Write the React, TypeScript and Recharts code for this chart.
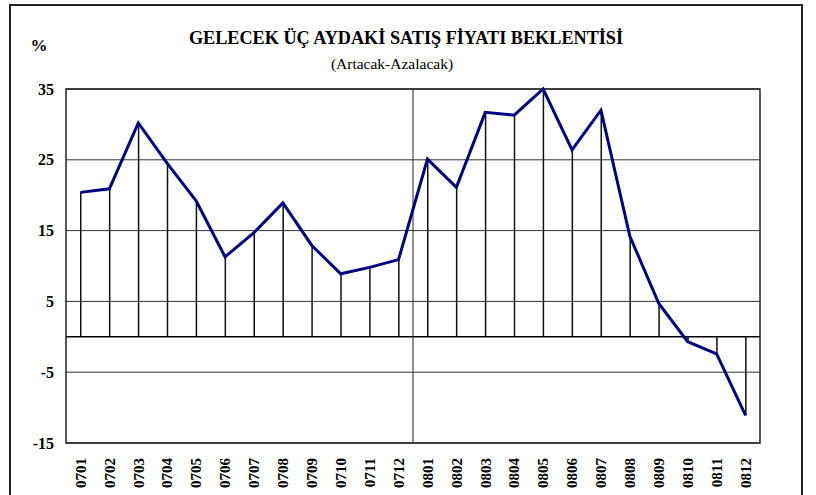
import {
  ComposedChart,
  Line,
  Bar,
  XAxis,
  YAxis,
  CartesianGrid,
  ReferenceLine,
  ReferenceArea,
} from 'recharts';

const FONT = '"Liberation Serif", "Times New Roman", serif';

const months = [
  '0701', '0702', '0703', '0704', '0705', '0706', '0707', '0708', '0709', '0710', '0711', '0712',
  '0801', '0802', '0803', '0804', '0805', '0806', '0807', '0808', '0809', '0810', '0811', '0812',
];

const expectation = [
  20.4, 20.9, 30.2, 24.5, 19.2, 11.3, 14.7, 18.9, 12.9, 8.9, 9.8, 10.9,
  25.1, 21.1, 31.7, 31.3, 35.0, 26.4, 32.0, 14.2, 4.7, -0.7, -2.4, -11.1,
];

const yTicks = [-15, -5, 5, 15, 25, 35];

const data = months.map((m, i) => ({ month: m, value: expectation[i] }));

function MonthTick({ x, y, payload }: any) {
  return (
    <text
      transform={`translate(${x},${y + 1}) rotate(-90)`}
      textAnchor="end"
      dy="0.35em"
      fontFamily={FONT}
      fontWeight="bold"
      fontSize={15}
      fill="#000"
    >
      {payload.value}
    </text>
  );
}

export default function App() {
  return (
    <div style={{ position: 'absolute', left: 0, top: 0, width: 816, height: 495, background: '#fff', overflow: 'hidden' }}>
      <div
        style={{
          position: 'absolute',
          left: 9,
          top: 4,
          width: 794,
          height: 520,
          border: '2px solid #222',
          boxSizing: 'border-box',
        }}
      />
      <div style={{ position: 'absolute', left: 0, top: 0 }}>
        <ComposedChart
          width={816}
          height={495}
          data={data}
          margin={{ top: 89, right: 56, bottom: 0, left: 10 }}
        >
          <text x={406} y={44} textAnchor="middle" fontFamily={FONT} fontWeight="bold" fontSize={18.2} fill="#000">
            GELECEK ÜÇ AYDAKİ SATIŞ FİYATI BEKLENTİSİ
          </text>
          <text x={392} y={69} textAnchor="middle" fontFamily={FONT} fontSize={15.5} fill="#000">
            (Artacak-Azalacak)
          </text>
          <text x={39} y={51} textAnchor="middle" fontFamily={FONT} fontWeight="bold" fontSize={17} fill="#000">
            %
          </text>
          <CartesianGrid vertical={false} stroke="#333" strokeWidth={1} />
          <XAxis
            dataKey="month"
            axisLine={false}
            tickLine={false}
            tickSize={6}
            tickMargin={8}
            height={52}
            interval={0}
            tick={<MonthTick />}
          />
          <YAxis
            domain={[-15, 35]}
            ticks={yTicks}
            width={56}
            axisLine={false}
            tickLine={false}
            tickSize={6}
            tickMargin={6}
            tick={{ fontFamily: FONT, fontWeight: 'bold', fontSize: 16, fill: '#000' }}
          />
          <ReferenceArea y1={-15} y2={35} fill="none" stroke="#222" strokeWidth={1.5} ifOverflow="visible" />
          <ReferenceLine y={0} stroke="#000" strokeWidth={1.5} />
          <ReferenceLine x="0712" position="end" stroke="#222" strokeWidth={1} />
          <Bar dataKey="value" fill="#111" barSize={1.5} isAnimationActive={false} />
          <Line
            type="linear"
            dataKey="value"
            stroke="#000080"
            strokeWidth={3}
            dot={false}
            isAnimationActive={false}
          />
        </ComposedChart>
      </div>
    </div>
  );
}
